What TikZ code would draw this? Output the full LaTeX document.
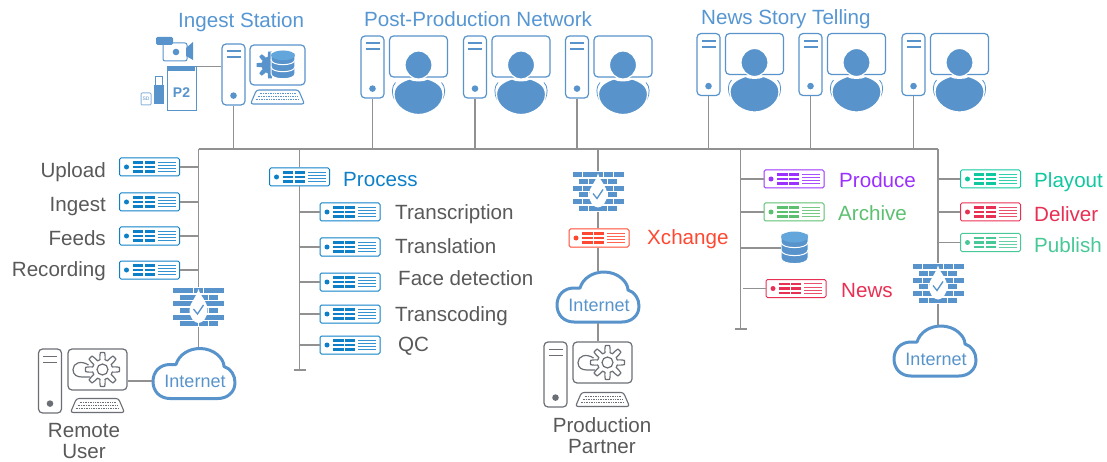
\documentclass[tikz,border=0pt]{standalone}
\usepackage{fontspec}
\setmainfont{Liberation Sans}
\usetikzlibrary{positioning}
\definecolor{iconblue}{RGB}{88,148,203}
\definecolor{lightblue}{RGB}{98,166,219}
\definecolor{titleblue}{RGB}{86,150,210}
\definecolor{rackblue}{RGB}{14,128,200}
\definecolor{labelgray}{RGB}{89,89,89}
\definecolor{icongray}{RGB}{107,111,117}
\definecolor{wiregray}{RGB}{145,145,145}
\definecolor{xred}{RGB}{255,72,50}
\definecolor{crimson}{RGB}{232,48,84}
\definecolor{purple}{RGB}{155,48,255}
\definecolor{leafgreen}{RGB}{92,192,112}
\definecolor{tealgreen}{RGB}{16,200,160}
\definecolor{seagreen}{RGB}{72,200,150}
\tikzset{
wire/.style={draw=wiregray, line width=1.3pt},
textlabel/.style={inner sep=0pt, font=\fontsize{20.6}{21}\selectfont, text=#1},
textlabel/.default=labelgray,
linelabel/.style={textlabel=#1, text height=15pt, text depth=4.3pt, yshift=-2pt},
linelabel/.default=labelgray,
rackbox/.style={rectangle, fill=white, draw=#1, line width=1pt, rounded corners=1.5pt, minimum width=60pt, minimum height=18pt, inner sep=0pt,
    path picture={
        \begin{scope}[shift={(path picture bounding box.center)}, sharp corners]
            \fill[#1] (-23,0) circle (2.5pt);
            \foreach \yy in {-4.4,0,4.4} {
                \fill[#1] (-17,\yy-1.35) rectangle (-6.5,\yy+1.35);
                \fill[#1] (-5,\yy-1.35) rectangle (5,\yy+1.35);
            }
            \foreach \yy in {-4.8,-1.6,1.6,4.8} {
                \draw[#1!85, line width=0.8pt] (8,\yy) -- (26,\yy);
            }
        \end{scope}
    }},
towerbox/.style={rectangle, fill=white, draw=#1, line width=1.2pt, rounded corners=4pt, minimum width=23pt, inner sep=0pt},
screenbox/.style={rectangle, fill=white, draw=#1, line width=1.2pt, rounded corners=4pt, minimum width=58pt, minimum height=41pt, inner sep=0pt},
iconspace/.style={rectangle, inner sep=0pt, minimum width=#1},
pics/towericon/.style 2 args={code={
    \node[towerbox=#1, minimum height=#2] (-box) {};
    \draw[#1, line width=1.8pt] ([shift={(-7pt,-8pt)}]-box.north) -- ++(14,0);
    \draw[#1, line width=1.8pt] ([shift={(-7pt,-14pt)}]-box.north) -- ++(14,0);
    \fill[#1] ([yshift=10pt]-box.south) circle (3.3pt);
}},
pics/keyboard/.style={code={
    \draw[#1, line width=1.1pt, rounded corners=2.5pt, fill=white] (-21,-7) -- (21,-7) -- (27,7) -- (-27,7) -- cycle;
    \foreach \yy/\xx in {-3.5/18,-0.5/20,2.5/22} {
        \draw[#1, line width=1pt, dash pattern=on 1pt off 0.7pt] (-\xx,\yy) -- (\xx,\yy);
    }
}},
pics/gearwheel/.style={code={
    \draw[#1, line width=1.2pt, fill=white, line join=round] plot[domain=0:360, samples=97] (\x:{13.5+3.5*max(-1,min(1,3*cos(8*\x)))}) -- cycle;
    \draw[#1, line width=1.2pt] (0,0) circle (5.5pt);
}},
pics/firewall/.style={code={
    \node[iconspace=51pt, minimum height=40pt] (-box) {};
    \foreach \yy in {-16.7,-3.3,10} {
        \foreach \xx in {-20.7,-10.3,0,10.3,20.7} {
            \fill[iconblue] (\xx-4.8,\yy-2.5) rectangle (\xx+4.8,\yy+2.5);
        }
    }
    \foreach \yy in {-10,3.3,16.7} {
        \foreach \xx in {-14.5,-4.8,4.8,14.5} {
            \fill[iconblue] (\xx-4.5,\yy-2.5) rectangle (\xx+4.5,\yy+2.5);
        }
    }
    \fill[white] (0,-18) .. controls (2,-10) and (9,-6) .. (9,3) .. controls (9,11) and (4,16) .. (0,16) .. controls (-4,16) and (-9,11) .. (-9,3) .. controls (-9,-4) and (-3,-8) .. (0,-18) -- cycle;
    \draw[iconblue, line width=1.3pt] (-5,2) -- (-1,7) -- (5,-2);
}},
pics/netcloud/.style={code={
    \node[iconspace=84pt, minimum height=52pt] (-box) {};
    \draw[iconblue, line width=3pt, fill=white, line join=round] (-24,25) .. controls (-34,25) and (-41,18) .. (-41,8) .. controls (-41,-2) and (-34,-9) .. (-24,-9) -- (-18,-9)
        .. controls (-15,-19) and (-5,-25) .. (6,-25) .. controls (20,-25) and (30,-15) .. (30,-7)
        .. controls (37,-5) and (41,2) .. (41,9) .. controls (41,19) and (33,25) .. (24,25) -- cycle;
    \node[textlabel=iconblue, font=\fontsize{18}{20}\selectfont] (-text) at (1,8) {Internet};
}},
pics/database/.style={code={
    \foreach \yy in {7,-1,-9} {
        \path[fill=iconblue, draw=white, line width=1pt] (-13.5,\yy-5) -- (-13.5,\yy+3) .. controls (-13.5,\yy+10.5) and (13.5,\yy+10.5) .. (13.5,\yy+3) -- (13.5,\yy-5) -- cycle;
    }
    \fill[lightblue] (0,-11) ellipse (13.5pt and 5.5pt);
}},
pics/operator/.style={code={
    \pic (-tower) {towericon={iconblue}{62pt}};
    \node[screenbox=iconblue] (-screen) at (46,-10.5) {};
    \begin{scope}[shift={(46,-10.5)}]
        \draw[iconblue, line width=0.8pt] (-23,26) .. controls (-27,30) and (-27,37) .. (-24,43);
        \draw[iconblue, line width=0.8pt] (23,26) .. controls (27,30) and (27,37) .. (24,43);
        \path[fill=iconblue, draw=white, line width=1.2pt] (-24.5,38) .. controls (-24.5,29) and (-17,25) .. (-9,22.5) .. controls (-5,25) and (5,25) .. (9,22.5) .. controls (17,25) and (24.5,29) .. (24.5,38)
            .. controls (24.5,50) and (11,58) .. (0,58) .. controls (-11,58) and (-24.5,50) .. (-24.5,38) -- cycle;
        \path[fill=iconblue, draw=white, line width=1.2pt] (0,8.5) ellipse (13.5pt and 14pt);
    \end{scope}
}}
}
\begin{document}
\begin{tikzpicture}[x=1pt, y=-1pt]
    \useasboundingbox (0,0) rectangle (1107,462);
    % Bus
    \coordinate (buswest) at (198.5,149);
    \coordinate (buseast) at (938,149);
    \draw[wire] (buswest) -- (buseast);
    % Titles
    \node[linelabel=titleblue, anchor=west] (titleingest) at (178,20) {Ingest Station};
    \node[linelabel=titleblue, anchor=west] (titlepost) at (364,19) {Post-Production Network};
    \node[linelabel=titleblue, anchor=west] (titlenews) at (701,17) {News Story Telling};
    % Operators
    \foreach \name/\xpos/\ypos in {
        posta/372.5/67,
        postb/475/67,
        postc/577/67,
        newsa/708.5/64.5,
        newsb/810.5/64.5,
        newsc/913.5/64.5} {
        \pic (\name) at (\xpos,\ypos) {operator};
        \draw[wire] (\name-tower-box.south) -- (\name-tower-box.south |- buswest);
    }
    % Ingest station
    \pic (ingest) at (233.5,74.5) {towericon={iconblue}{61pt}};
    \node[screenbox=iconblue, minimum width=55pt, minimum height=40pt] (ingestscreen) at (277.5,65) {};
    \fill[iconblue, shift={(270,65)}] plot[domain=0:360, samples=97] (\x:{11+2.5*max(-1,min(1,3*cos(8*\x)))}) -- cycle;
    \pic[scale=0.88] at (283,65) {database};
    \pic at (277.5,97) {keyboard=iconblue};
    \draw[wire] (ingest-box.south) -- (ingest-box.south |- buswest);
    \draw[iconblue, line width=1pt, rounded corners=2pt] (168,43) -- (163,43) -- (163,61) -- (187,61) -- (187,43) -- (172,43);
    \fill[iconblue, rounded corners=1.5pt] (156,37) rectangle (173,45);
    \fill[iconblue] (186,48) -- (193,42) -- (193,60) -- (186,56) -- cycle;
    \fill[iconblue] (176,52) circle (3.3pt);
    \node[draw=iconblue, line width=1pt, minimum width=29pt, minimum height=44pt, inner sep=0pt, fill=white] (cardptwo) at (181.5,89) {};
    \fill[iconblue] (168,67) rectangle (195,71);
    \node[textlabel=iconblue, font=\fontsize{14}{14}\bfseries\selectfont] (cardlabel) at (181.5,93) {P2};
    \fill[iconblue] (154,85) rectangle (164,104);
    \draw[iconblue, line width=0.8pt] (155.5,85) rectangle (162.5,76);
    \node[draw=iconblue!70, line width=1pt, rounded corners=1pt, minimum width=10pt, minimum height=12pt, inner sep=0pt, font=\fontsize{5}{5}\selectfont, text=iconblue] (sdcard) at (146,99) {SD};
    \draw[wire] (cardptwo.north east) -- (cardptwo.north east -| ingest-box.west);
    % Left branch
    \foreach \name/\ypos/\txt/\ytxt in {
        upload/167/Upload/170,
        ingestrack/202/Ingest/204,
        feeds/236/Feeds/238,
        recording/270/Recording/269} {
        \node[rackbox=rackblue] (\name) at (149.5,\ypos) {};
        \node[linelabel, anchor=east] (\name label) at (106,\ytxt) {\txt};
        \draw[wire] (\name.east) -- (\name.east -| buswest);
    }
    \pic (fwleft) at (198.5,307) {firewall};
    \draw[wire] (buswest) -- (fwleft-box.north);
    \pic (netleft) at (194,373.5) {netcloud};
    \draw[wire] (fwleft-box.south) -- (fwleft-box.south |- netleft-box.north);
    % Remote user
    \pic (remote) at (50,381) {towericon={icongray}{64pt}};
    \node[screenbox=icongray, minimum width=59pt] (remotescreen) at (97.5,369.5) {};
    \draw[icongray, line width=1.2pt] (88.5,365) .. controls (81,360) and (73,363) .. (73,369.5) .. controls (73,375) and (77,377) .. (82,377) -- (90,377);
    \pic (remotehead) at (102.5,369.5) {gearwheel=icongray};
    \pic at (97.5,405.5) {keyboard=icongray};
    \draw[wire] ([yshift=-11.5pt]remotescreen.east) -- ([yshift=-7.5pt]netleft-box.west);
    \node[textlabel, align=center] (remotelabel) at (84,441.5) {Remote\\User};
    % Process branch
    \node[rackbox=rackblue] (process) at (299.5,177) {};
    \node[linelabel=rackblue, anchor=west] (processlabel) at (343,179) {Process};
    \coordinate (processend) at (299.5,370);
    \draw[wire] (process.north) -- (process.north |- buswest);
    \draw[wire] (process.south) -- (processend);
    \draw[wire] ([xshift=-6pt]processend) -- ([xshift=6pt]processend);
    \foreach \name/\ypos/\txt/\xtxt/\ytxt in {
        transcription/212/Transcription/395/212,
        translation/247/Translation/395/246,
        facedetect/282/Face detection/398/278,
        transcoding/314/Transcoding/395/314,
        qc/345/QC/398/344} {
        \node[rackbox=rackblue] (\name) at (350,\ypos) {};
        \node[linelabel, anchor=west] (\name label) at (\xtxt,\ytxt) {\txt};
        \draw[wire] (\name.west) -- (\name.west -| processend);
    }
    % Xchange branch
    \pic (fwmid) at (598,191.5) {firewall};
    \draw[wire] (fwmid-box.north) -- (fwmid-box.north |- buswest);
    \node[rackbox=xred] (xchange) at (599,238) {};
    \node[linelabel=xred, anchor=west] (xchangelabel) at (647,237) {Xchange};
    \draw[wire] (fwmid-box.south) -- (fwmid-box.south |- xchange.north);
    \pic (netmid) at (598,297) {netcloud};
    \draw[wire] (xchange.south -| netmid-box.north) -- (netmid-box.north);
    % Production partner
    \pic (partner) at (555.5,374.5) {towericon={icongray}{65pt}};
    \node[screenbox=icongray, minimum width=59pt] (partnerscreen) at (602.5,362.5) {};
    \draw[icongray, line width=1.2pt] (593.5,358) .. controls (586,353) and (578,356) .. (578,362.5) .. controls (578,368) and (582,370) .. (587,370) -- (595,370);
    \pic (partnerhead) at (607.5,362.5) {gearwheel=icongray};
    \pic at (602.5,399.5) {keyboard=icongray};
    \draw[wire] (netmid-box.south) -- (netmid-box.south |- partnerscreen.north);
    \node[textlabel, align=center] (partnerlabel) at (602,435.5) {Production\\Partner};
    % Produce branch
    \coordinate (produceend) at (740.5,329);
    \draw[wire] (produceend |- buswest) -- (produceend);
    \draw[wire] ([xshift=-6pt]produceend) -- ([xshift=6pt]produceend);
    \node[rackbox=purple] (produce) at (794,179) {};
    \node[linelabel=purple, anchor=west] (producelabel) at (839,180) {Produce};
    \draw[wire] (produce.west) -- (produce.west -| produceend);
    \node[rackbox=leafgreen] (archive) at (794,212) {};
    \node[linelabel=leafgreen, anchor=west] (archivelabel) at (838,213) {Archive};
    \draw[wire] (archive.west) -- (archive.west -| produceend);
    \pic at (794.5,248) {database};
    \node[iconspace=27pt, minimum height=33pt] (store) at (794.5,248) {};
    \draw[wire] (store.west) -- (store.west -| produceend);
    \node[rackbox=crimson] (newsrack) at (796,288.5) {};
    \coordinate (newsstub) at (743,288.5);
    \node[linelabel=crimson, anchor=west] (newslabel) at (841,290) {News};
    \draw[wire] (newsrack.west) -- (newsstub);
    % Right branch
    \foreach \name/\txt/\colour/\ypos/\ytxt in {
        playout/Playout/tealgreen/179/180,
        deliver/Deliver/crimson/212/214,
        publish/Publish/seagreen/242.5/245} {
        \node[rackbox=\colour] (\name) at (990.5,\ypos) {};
        \node[linelabel=\colour, anchor=west] (\name label) at (1034,\ytxt) {\txt};
        \draw[wire] (\name.west) -- (\name.west -| buseast);
    }
    \pic (fwright) at (938,283.5) {firewall};
    \draw[wire] (buseast) -- (fwright-box.north);
    \pic (netright) at (935,351) {netcloud};
    \draw[wire] (fwright-box.south) -- (fwright-box.south |- netright-box.north);
\end{tikzpicture}
\end{document}
